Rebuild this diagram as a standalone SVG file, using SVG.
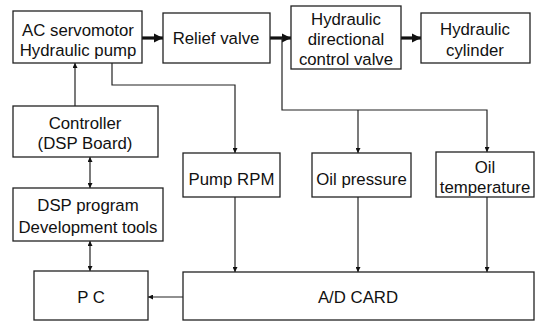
<svg xmlns="http://www.w3.org/2000/svg" width="538" height="322" viewBox="0 0 538 322">
<defs>
<style>
.box{fill:#fff;stroke:#222;stroke-width:1.3}
.t{font-family:"Liberation Sans",Arial,sans-serif;font-size:16.8px;fill:#111;text-anchor:middle}
.ln{fill:none;stroke:#222;stroke-width:1.2}
.thk{fill:none;stroke:#111;stroke-width:3.2}
</style>
<marker id="ah" viewBox="0 0 10 10" refX="10" refY="5" markerWidth="5" markerHeight="5" markerUnits="userSpaceOnUse" orient="auto-start-reverse"><path d="M0,0 L10,5 L0,10 z" fill="#111"/></marker>
<marker id="big" viewBox="0 0 10 10" refX="10" refY="5" markerWidth="9" markerHeight="10" markerUnits="userSpaceOnUse" orient="auto"><path d="M0,0 L10,5 L0,10 z" fill="#111"/></marker>
</defs>
<rect width="538" height="322" fill="#fff"/>
<g id="connectors">
<line class="thk" x1="142" y1="38" x2="163" y2="38" marker-end="url(#big)"/>
<line class="thk" x1="270" y1="38" x2="291" y2="38" marker-end="url(#big)"/>
<line class="thk" x1="401" y1="38" x2="421" y2="38" marker-end="url(#big)"/>
<polyline class="ln" points="282,38 282,110 487,110 487,152" marker-end="url(#ah)"/>
<line class="ln" x1="358" y1="110" x2="358" y2="153" marker-end="url(#ah)"/>
<polyline class="ln" points="112,63 112,85 235,85 235,153" marker-end="url(#ah)"/>
<line class="ln" x1="75" y1="106" x2="75" y2="63" marker-end="url(#ah)"/>
<line class="ln" x1="90" y1="157" x2="90" y2="188" marker-start="url(#ah)" marker-end="url(#ah)"/>
<line class="ln" x1="90" y1="241" x2="90" y2="271" marker-start="url(#ah)" marker-end="url(#ah)"/>
<line class="ln" x1="235" y1="197" x2="235" y2="272" marker-end="url(#ah)"/>
<line class="ln" x1="358" y1="197" x2="358" y2="272" marker-end="url(#ah)"/>
<line class="ln" x1="487" y1="197" x2="487" y2="272" marker-end="url(#ah)"/>
<line class="ln" x1="183" y1="297" x2="148" y2="297" marker-end="url(#ah)"/>
</g>
<g id="ac-pump"><rect class="box" x="13" y="11" width="129" height="52"/><text class="t" x="78" y="36">AC servomotor</text><text class="t" x="78" y="56">Hydraulic pump</text></g>
<g id="relief-valve"><rect class="box" x="163" y="13" width="107" height="50"/><text class="t" x="216" y="44">Relief valve</text></g>
<g id="dir-valve"><rect class="box" x="291" y="6" width="110" height="63"/><text class="t" x="346" y="25">Hydraulic</text><text class="t" x="346" y="45">directional</text><text class="t" x="346" y="65">control valve</text></g>
<g id="cylinder"><rect class="box" x="421" y="13" width="109" height="50"/><text class="t" x="475" y="35">Hydraulic</text><text class="t" x="475" y="56">cylinder</text></g>
<g id="controller"><rect class="box" x="13" y="106" width="145" height="51"/><text class="t" x="85" y="129">Controller</text><text class="t" x="85" y="149">(DSP Board)</text></g>
<g id="dsp-tools"><rect class="box" x="13" y="188" width="150" height="53"/><text class="t" x="88" y="211">DSP program</text><text class="t" x="88" y="233">Development tools</text></g>
<g id="pc"><rect class="box" x="34" y="271" width="114" height="49"/><text class="t" x="91" y="303">P C</text></g>
<g id="pump-rpm"><rect class="box" x="183" y="153" width="97" height="44"/><text class="t" x="231.5" y="185">Pump RPM</text></g>
<g id="oil-pressure"><rect class="box" x="312" y="153" width="99" height="44"/><text class="t" x="361.5" y="185">Oil pressure</text></g>
<g id="oil-temp"><rect class="box" x="436" y="152" width="98" height="45"/><text class="t" x="485" y="173">Oil</text><text class="t" x="485" y="193">temperature</text></g>
<g id="ad-card"><rect class="box" x="183" y="272" width="351" height="48"/><text class="t" x="358" y="303">A/D CARD</text></g>
</svg>
